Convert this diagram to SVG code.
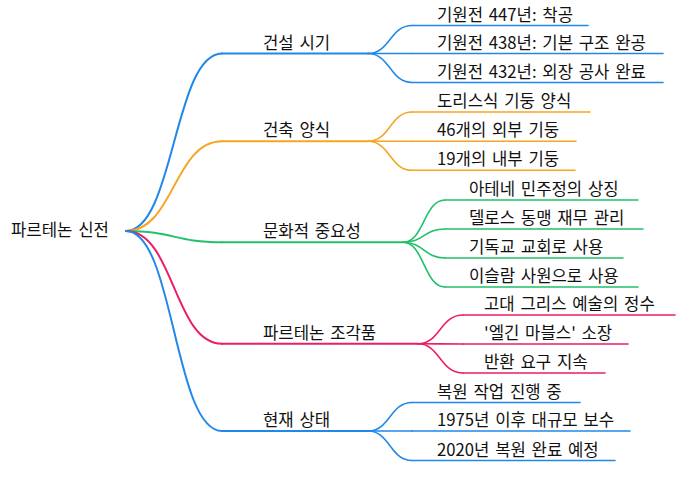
<svg xmlns="http://www.w3.org/2000/svg" width="681" height="484" viewBox="0 0 681 484">
<style>
text{font-family:"Noto Sans CJK KR","Noto Sans",sans-serif;font-size:16.7px;word-spacing:2px;fill:#111}
.c{fill:none;stroke-linecap:round}
.m{stroke-width:2}
.s{stroke-width:1.6}
.b{stroke:#2188ea}
.o{stroke:#f5a623}
.g{stroke:#22c06b}
.p{stroke:#ea1f67}
</style>
<rect width="681" height="484" fill="#fff"/>
<g id="connectors">
<path class="c m b" d="M126,231 C174,231 174,53.5 222,53.5"/>
<path class="c m o" d="M126,231 C174,231 174,141.3 222,141.3"/>
<path class="c m g" d="M126,231 C174,231 174,242.3 222,242.3"/>
<path class="c m p" d="M126,231 C174,231 174,343.8 222,343.8"/>
<path class="c m b" d="M126,231 C174,231 174,431 222,431"/>
<path class="c s b" d="M368,53.5 C390,53.5 390,25.5 412,25.5"/>
<path class="c s b" d="M368,53.5 C390,53.5 390,53.5 412,53.5"/>
<path class="c s b" d="M368,53.5 C390,53.5 390,82.5 412,82.5"/>
<path class="c s o" d="M368,141.3 C390,141.3 390,112 412,112"/>
<path class="c s o" d="M368,141.3 C390,141.3 390,141.3 412,141.3"/>
<path class="c s o" d="M368,141.3 C390,141.3 390,170.3 412,170.3"/>
<path class="c s g" d="M403,242.3 C424,242.3 424,200 445,200"/>
<path class="c s g" d="M403,242.3 C424,242.3 424,229 445,229"/>
<path class="c s g" d="M403,242.3 C424,242.3 424,258 445,258"/>
<path class="c s g" d="M403,242.3 C424,242.3 424,287 445,287"/>
<path class="c s p" d="M418,343.8 C440,343.8 440,315 463,315"/>
<path class="c s p" d="M418,343.8 C440,343.8 440,344 463,344"/>
<path class="c s p" d="M418,343.8 C440,343.8 440,373 463,373"/>
<path class="c s b" d="M368,431 C390,431 390,402.5 412,402.5"/>
<path class="c s b" d="M368,431 C390,431 390,431 412,431"/>
<path class="c s b" d="M368,431 C390,431 390,460.5 412,460.5"/>
</g>
<g id="root"><text x="11" y="236">파르테논 신전</text></g>
<g id="n1"><path class="c m b" d="M222,53.5H368"/><text x="263" y="48.5">건설 시기</text></g>
<g id="n1a"><path class="c s b" d="M412,25.5H588"/><text x="437" y="20.5">기원전 447년: 착공</text></g>
<g id="n1b"><path class="c s b" d="M412,53.5H663"/><text x="437" y="48.5">기원전 438년: 기본 구조 완공</text></g>
<g id="n1c"><path class="c s b" d="M412,82.5H663"/><text x="437" y="77.5">기원전 432년: 외장 공사 완료</text></g>
<g id="n2"><path class="c m o" d="M222,141.3H368"/><text x="263" y="136.3">건축 양식</text></g>
<g id="n2a"><path class="c s o" d="M412,112H590"/><text x="437" y="107">도리스식 기둥 양식</text></g>
<g id="n2b"><path class="c s o" d="M412,141.3H576"/><text x="437" y="136.3">46개의 외부 기둥</text></g>
<g id="n2c"><path class="c s o" d="M412,170.3H575"/><text x="437" y="165.3">19개의 내부 기둥</text></g>
<g id="n3"><path class="c m g" d="M222,242.3H403"/><text x="263" y="237.3">문화적 중요성</text></g>
<g id="n3a"><path class="c s g" d="M445,200H638"/><text x="469" y="195">아테네 민주정의 상징</text></g>
<g id="n3b"><path class="c s g" d="M445,229H643"/><text x="469" y="224">델로스 동맹 재무 관리</text></g>
<g id="n3c"><path class="c s g" d="M445,258H623"/><text x="469" y="253">기독교 교회로 사용</text></g>
<g id="n3d"><path class="c s g" d="M445,287H638"/><text x="469" y="282">이슬람 사원으로 사용</text></g>
<g id="n4"><path class="c m p" d="M222,343.8H418"/><text x="263" y="338.8">파르테논 조각품</text></g>
<g id="n4a"><path class="c s p" d="M463,315H675"/><text x="484" y="310">고대 그리스 예술의 정수</text></g>
<g id="n4b"><path class="c s p" d="M463,344H628"/><text x="484" y="339">'엘긴 마블스' 소장</text></g>
<g id="n4c"><path class="c s p" d="M463,373H605"/><text x="484" y="368">반환 요구 지속</text></g>
<g id="n5"><path class="c m b" d="M222,431H368"/><text x="263" y="426">현재 상태</text></g>
<g id="n5a"><path class="c s b" d="M412,402.5H580"/><text x="437" y="397.5">복원 작업 진행 중</text></g>
<g id="n5b"><path class="c s b" d="M412,431H630"/><text x="437" y="426">1975년 이후 대규모 보수</text></g>
<g id="n5c"><path class="c s b" d="M412,460.5H615"/><text x="437" y="455.5">2020년 복원 완료 예정</text></g>
</svg>
